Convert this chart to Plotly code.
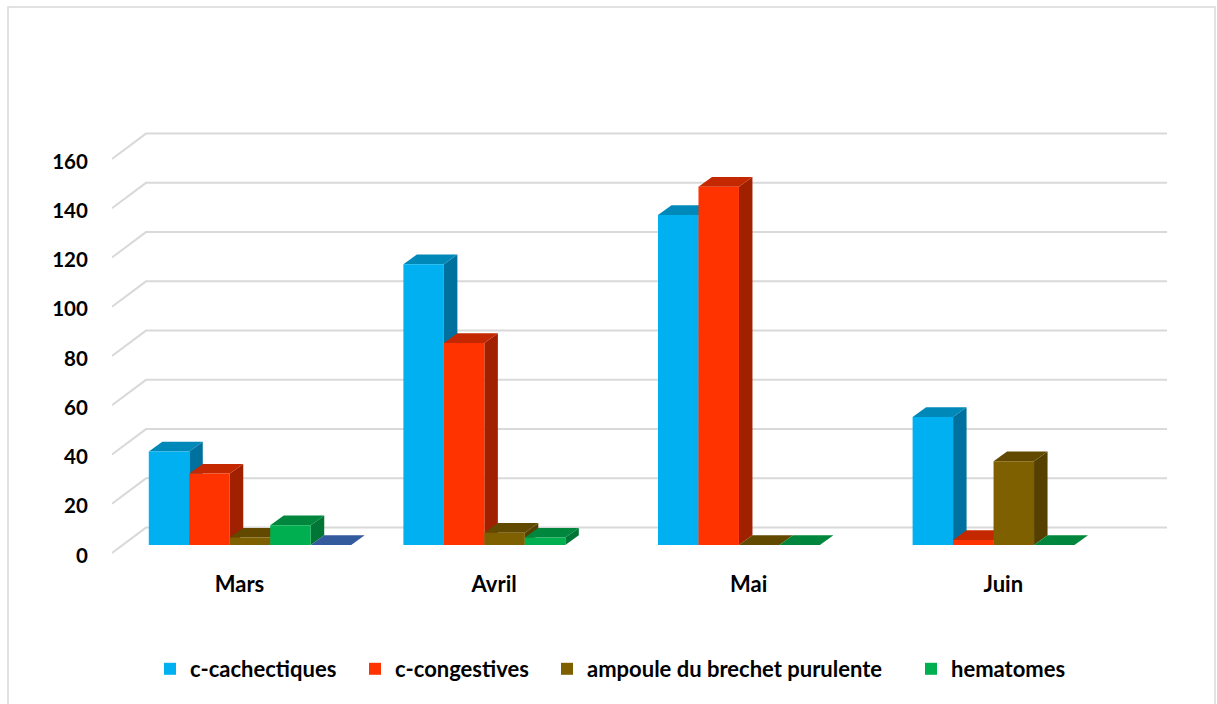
import plotly.graph_objects as go

months = ["Mars", "Avril", "Mai", "Juin"]
y_ticks = [0, 20, 40, 60, 80, 100, 120, 140, 160]
cachectiques = [38, 114, 134, 52]
congestives = [29, 82, 145.5, 2]
ampoule = [3, 5, 0, 34]
hematomes = [8, 3, 0, 0]
cinquieme = [0, None, None, None]

names = ["c-cachectiques", "c-congestives", "ampoule du brechet purulente", "hematomes", "série 5"]
series = [cachectiques, congestives, ampoule, hematomes, cinquieme]
front = ["#00B0F0", "#FF3300", "#7F6000", "#00B050", "#2F5597"]
top = ["#0088B8", "#C42800", "#614A00", "#00873D", "#345A9E"]
side = ["#00709E", "#A02000", "#554000", "#007535", "#263F77"]

W, H = 1217, 704
L, R, T, B = 112, 1167, 7, 562
FRONT = 553            # pixel row of value 0 on the front edge of the floor
PXY = 2.4625           # pixels per unit of value
PXX = 254.6            # pixels per category
BASE = 545             # pixel row of value 0 on the bar front plane
CX0 = 250              # pixel column of the first group centre
BARW = 0.159
GROUP = BARW * 5
DX, DY = 13.5 / PXX, 9.7 / PXY   # bar depth in axis units
LBL_DX = -10.5 / PXX
LBL_DY = 2.5 / PXY
AX_OFF = (FRONT - BASE) / PXY
BACK_DX, BACK_DY = 34 / PXX, 25.4 / PXY

x_range = [(L - CX0) / PXX, (R - CX0) / PXX]
y_range = [(BASE - B) / PXY, (BASE - T) / PXY]


def poly(pts, color):
    d = "M" + " L".join(f"{x:.5f},{y:.4f}" for x, y in pts) + " Z"
    return dict(type="path", path=d, xref="x", yref="y", layer="below",
                fillcolor=color, line=dict(width=0))


shapes = []
for v in y_ticks:
    y0 = v - AX_OFF
    x0 = x_range[0]
    d = (f"M{x0:.5f},{y0:.4f} L{x0 + BACK_DX:.5f},{y0 + BACK_DY:.4f} "
         f"L{x_range[1]:.5f},{y0 + BACK_DY:.4f}")
    shapes.append(dict(type="path", path=d, xref="x", yref="y", layer="below",
                       line=dict(color="#D9D9D9", width=2)))

for s, vals in enumerate(series):
    for i, v in enumerate(vals):
        if v is None:
            continue
        a = i - GROUP / 2 + s * BARW
        b = a + BARW
        shapes.append(poly([(b, 0), (b + DX, DY), (b + DX, v + DY), (b, v)], side[s]))
        shapes.append(poly([(a, v), (a + DX, v + DY), (b + DX, v + DY), (b, v)], top[s]))


def px(x):
    return (x - L) / (R - L)


def py(y):
    return (B - y) / (B - T)


shapes.append(dict(type="path", xref="paper", yref="paper", layer="below",
                   path=f"M{px(8):.5f},{py(706):.5f} L{px(8):.5f},{py(7):.5f} "
                        f"L{px(1215):.5f},{py(7):.5f} L{px(1215):.5f},{py(706):.5f}",
                   line=dict(color="#D9D9D9", width=1.5)))

font = dict(family="Lato", size=22, color="#000000", weight=700)
yfont = dict(family="Lato", size=20.5, color="#000000", weight=700)
legend_px = [150, 355, 547, 911]
LEG_Y = 669

fig = go.Figure()
for s, vals in enumerate(series):
    ref = "legend" if s == 0 else f"legend{s + 1}"
    fig.add_trace(go.Bar(x=list(range(len(months))), y=vals, name=names[s],
                         marker=dict(color=front[s], line=dict(width=0)),
                         legend=ref if s < 4 else None,
                         showlegend=s < 4, hoverinfo="x+y+name"))

layout = dict(
    width=W, height=H, autosize=False,
    margin=dict(l=L, r=W - R, t=T, b=H - B),
    paper_bgcolor="white", plot_bgcolor="rgba(0,0,0,0)",
    barmode="group", bargap=1 - GROUP, bargroupgap=0,
    shapes=shapes, font=font,
    xaxis=dict(range=x_range, showgrid=False, zeroline=False, showline=False,
               tickmode="array", tickvals=[i + LBL_DX for i in range(len(months))],
               ticktext=months, ticks="outside", ticklen=3, tickcolor="rgba(0,0,0,0)",
               tickfont=font),
    yaxis=dict(range=y_range, showgrid=False, zeroline=False, showline=False,
               tickmode="array", tickvals=[v - AX_OFF - LBL_DY for v in y_ticks],
               ticktext=[str(v) for v in y_ticks], ticks="outside", ticklen=19,
               tickcolor="rgba(0,0,0,0)", tickfont=yfont),
)
for s in range(4):
    key = "legend" if s == 0 else f"legend{s + 1}"
    layout[key] = dict(x=px(legend_px[s]), y=py(LEG_Y), xanchor="left", yanchor="middle",
                       orientation="h", bgcolor="rgba(0,0,0,0)", font=font, itemwidth=30)
fig.update_layout(**layout)

fig.write_html("out.html", config={"displayModeBar": False},
               post_script="document.body.style.margin='0';document.body.style.overflow='hidden';")
